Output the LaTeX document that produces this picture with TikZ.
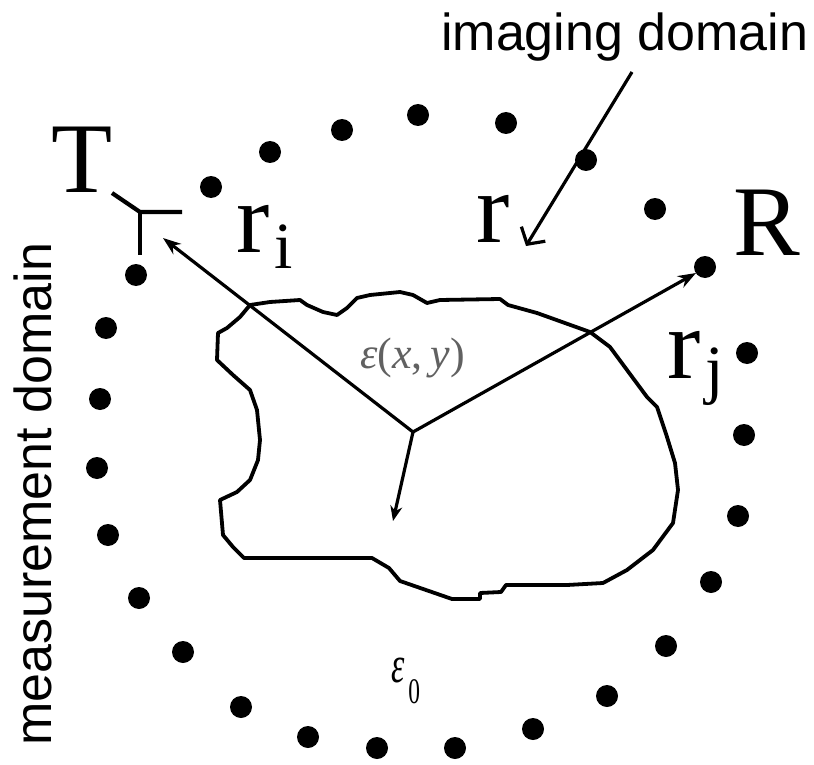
\documentclass[tikz,border=0pt]{standalone}
\usepackage{fontspec}
\setmainfont{Liberation Serif}
\newfontfamily\sansf{Liberation Sans}
\usetikzlibrary{arrows.meta}
\begin{document}
\begin{tikzpicture}[x=1pt,y=-1pt,
  dot/.style={circle,fill=black,inner sep=0pt,minimum size=22pt},
  lbl/.style={inner sep=0pt,anchor=base west},
  big/.style={lbl,font=\fontsize{100}{100}\selectfont},
  subs/.style={lbl,font=\fontsize{66}{66}\selectfont},
  sans/.style={lbl,font=\sansf\fontsize{52}{52}\selectfont},
  conn/.style={line width=3.2pt},
  blob/.style={line width=3.8pt,line join=round}]
\fill[white] (0,0) rectangle (814,765);
\useasboundingbox (0,0) rectangle (814,765);

% measurement dots
\foreach \i/\x/\y in {1/106/328,2/136/275,3/211/187,4/270/152,5/342/130,
  6/418/115,7/506/123,8/586/160,9/655/209,10/705/267,11/747/353,12/744/435,
  13/738/516,14/711/582,15/666/646,16/607/696,17/533/729,18/455/748,
  19/377/748,20/308/737,21/241/707,22/183/652,23/139/598,24/108/535,
  25/97/468,26/100/399}
  \node[dot] (d\i) at (\x,\y) {};

% object boundary
\draw[blob] (250,305) -- (270,302) -- (300,300) -- (307,305) -- (323,312) -- (337,315)
  -- (347,308) -- (357,298) -- (370,295) -- (400,292) -- (413,295) -- (427,303)
  -- (440,300) -- (500,299) -- (508,305) -- (537,313) -- (590,332) -- (610,347)
  -- (627,370) -- (647,397) -- (657,407) -- (667,437) -- (675,463) -- (678,490)
  -- (673,523) -- (653,550) -- (627,570) -- (603,583) -- (567,585) -- (506,585)
  -- (501,592) -- (480,593) -- (480,599) -- (452,599) -- (426,590) -- (400,581)
  -- (389,568) -- (372,558) -- (244,558) -- (233,547) -- (223,535) -- (220,500)
  -- (237,492) -- (250,480) -- (258,460) -- (260,440) -- (257,410) -- (250,390)
  -- (233,375) -- (217,360) -- (218,333) -- (227,328) -- (240,317) -- cycle;

% transmitter antenna
\coordinate (a0) at (112,193);
\coordinate (a1) at (140,212);
\coordinate (a2) at (182,212);
\coordinate (a3) at (140,255);
\draw[blob,line width=4.2pt] (a0) -- (a1) -- (a2);
\draw[blob,line width=4.2pt] (a1) -- (a3);

% vectors
\coordinate (c) at (413,432);
\coordinate (tT) at (163,238);
\coordinate (tR) at (696,273);
\coordinate (tD) at (393,521);
\draw[conn,-{Stealth[length=18pt,width=13pt]}] (c) -- (tT);
\draw[conn,-{Stealth[length=18pt,width=13pt]}] (c) -- (tR);
\draw[conn,-{Stealth[length=15pt,width=12pt]}] (c) -- (tD);

% imaging domain pointer
\coordinate (ia) at (632,72);
\coordinate (ib) at (526,246);
\draw[conn,-{Straight Barb[length=12pt,width=28pt,line width=3.2pt]}] (ia) -- (ib);

% labels
\node[big] (lT) at (51,193) {T};
\node[big] (lri) at (236,252) {r};
\node[subs] (li) at (274,268) {i};
\node[big] (lr) at (476,242) {r};
\node[big] (lR) at (733,255) {R};
\node[big] (lrj) at (667,378) {r};
\node[subs] (lj) at (705,391) {j};
\node[lbl,font=\fontsize{44}{44}\selectfont,text=black!62] (eps) at (360,368)
  {\textit{ε}(\textit{x},\kern8pt\textit{y})};
\node[lbl,xscale=0.65,font=\fontsize{52}{52}\selectfont] (eps0) at (391,682)
  {\textit{ε}\kern6pt\raisebox{-21pt}{\fontsize{36}{36}\selectfont 0}};
\node[sans] (img) at (441,51) {imaging domain};
\node[sans,rotate=90] (meas) at (51,746) {measurement domain};
\end{tikzpicture}
\end{document}
